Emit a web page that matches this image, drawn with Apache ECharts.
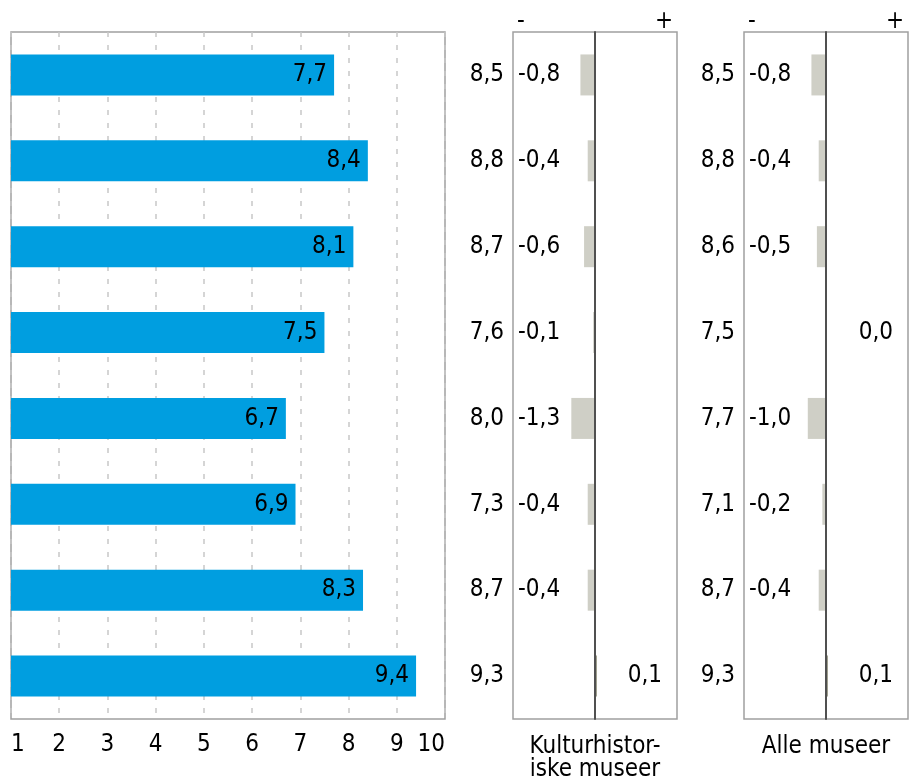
<!DOCTYPE html>
<html><head><meta charset="utf-8">
<script src="https://cdn.jsdelivr.net/npm/echarts@6/dist/echarts.min.js"></script>
<style>html,body{margin:0;padding:0;background:#fff}#c{width:917px;height:779px}</style>
</head><body><div id="c"></div>
<script>
const categories = ['A','B','C','D','E','F','G','H'];
const scores = [7.7, 8.4, 8.1, 7.5, 6.7, 6.9, 8.3, 9.4];
const kulturCompare = [8.5, 8.8, 8.7, 7.6, 8.0, 7.3, 8.7, 9.3];
const kulturDiff = [-0.8, -0.4, -0.6, -0.1, -1.3, -0.4, -0.4, 0.1];
const alleCompare = [8.5, 8.8, 8.6, 7.5, 7.7, 7.1, 8.7, 9.3];
const alleDiff = [-0.8, -0.4, -0.5, 0.0, -1.0, -0.2, -0.4, 0.1];
const panelTitles = ['Kulturhistor-\niske museer', 'Alle museer'];

const FONT = '"DejaVu Sans Condensed", "Liberation Sans", sans-serif';
const FS = 24;
const fmt = v => v.toFixed(1).replace('.', ',');
const DMIN = -4.5, DMAX = 4.5;

const chart = echarts.init(document.getElementById('c'), null, {renderer: 'canvas'});

function diffPanel(idx, compare, diff) {
  return {
    xAxis: {
      gridIndex: idx, type: 'value', min: DMIN, max: DMAX, interval: 4.5, position: 'top',
      axisLine: {show: false}, axisTick: {show: false}, splitLine: {show: false},
      axisLabel: {
        fontFamily: FONT, fontSize: FS, color: '#000', margin: -2,
        alignMinLabel: 'left', alignMaxLabel: 'right',
        formatter: v => v < 0 ? '-' : (v > 0 ? '+' : ''),
        padding: [0, 4, 0, 4]
      }
    },
    yAxis: {
      gridIndex: idx, type: 'category', data: categories, inverse: true, z: 5,
      axisLine: {show: true, onZero: true, lineStyle: {color: '#505050', width: 2}},
      axisTick: {show: false}, splitLine: {show: false},
      axisLabel: {fontFamily: FONT, fontSize: FS, color: '#000', margin: 9,
        formatter: (v, i) => fmt(compare[i])}
    },
    series: [
      {
        type: 'bar', xAxisIndex: idx, yAxisIndex: idx, barWidth: 41, z: 1,
        data: diff.map(v => ({value: v, itemStyle: {color: v > 0 ? '#8a8a76' : '#cfcfc6'}}))
      },
      {
        type: 'scatter', xAxisIndex: idx, yAxisIndex: idx, symbolSize: 0, silent: true, z: 6,
        itemStyle: {opacity: 1},
        data: diff.map((v, i) => ({
          value: [v < 0 ? DMIN : DMAX, i],
          label: v < 0
            ? {position: 'right', distance: 5, align: 'left', color: '#000'}
            : {position: 'left', distance: 15, align: 'right', color: '#000'}
        })),
        label: {
          show: true, fontFamily: FONT, fontSize: FS, color: '#000', opacity: 1,
          formatter: p => fmt(diff[p.dataIndex])
        }
      }
    ]
  };
}

const p1 = diffPanel(1, kulturCompare, kulturDiff);
const p2 = diffPanel(2, alleCompare, alleDiff);

const titleStyle = {fontFamily: FONT, fontSize: FS, fontWeight: 'normal', color: '#000', lineHeight: 23};

const option = {
  animation: false,
  backgroundColor: '#fff',
  textStyle: {fontFamily: FONT},
  grid: [
    {left: 11, top: 32, width: 434, height: 687, show: true, borderColor: '#a0a0a0', borderWidth: 1.5, backgroundColor: 'transparent'},
    {left: 513, top: 32, width: 164, height: 687, show: true, borderColor: '#a0a0a0', borderWidth: 1.5, backgroundColor: 'transparent'},
    {left: 744, top: 32, width: 164, height: 687, show: true, borderColor: '#a0a0a0', borderWidth: 1.5, backgroundColor: 'transparent'}
  ],
  title: [
    {text: panelTitles[0], left: 595, top: 735, textAlign: 'center', padding: 0, textStyle: titleStyle},
    {text: panelTitles[1], left: 826, top: 735, textAlign: 'center', padding: 0, textStyle: titleStyle}
  ],
  xAxis: [
    {
      gridIndex: 0, type: 'value', min: 1, max: 10, interval: 1,
      axisLine: {show: false}, axisTick: {show: false},
      splitLine: {show: true, lineStyle: {color: '#c8c8c8', type: [5, 8], width: 1.5}},
      axisLabel: {fontFamily: FONT, fontSize: FS, color: '#000', margin: 14,
        alignMinLabel: 'left', alignMaxLabel: 'right', padding: [0, 0, 0, 0]}
    },
    p1.xAxis, p2.xAxis
  ],
  yAxis: [
    {gridIndex: 0, type: 'category', data: categories, inverse: true,
      axisLine: {show: false}, axisTick: {show: false}, axisLabel: {show: false}, splitLine: {show: false}},
    p1.yAxis, p2.yAxis
  ],
  series: [
    {
      type: 'bar', xAxisIndex: 0, yAxisIndex: 0, barWidth: 41, data: scores,
      itemStyle: {color: '#009ee0'},
      label: {show: true, position: 'insideRight', distance: 7, fontFamily: FONT, fontSize: FS, color: '#000',
        formatter: p => fmt(p.value)}
    },
    ...p1.series, ...p2.series
  ]
};
chart.setOption(option);
</script></body></html>
